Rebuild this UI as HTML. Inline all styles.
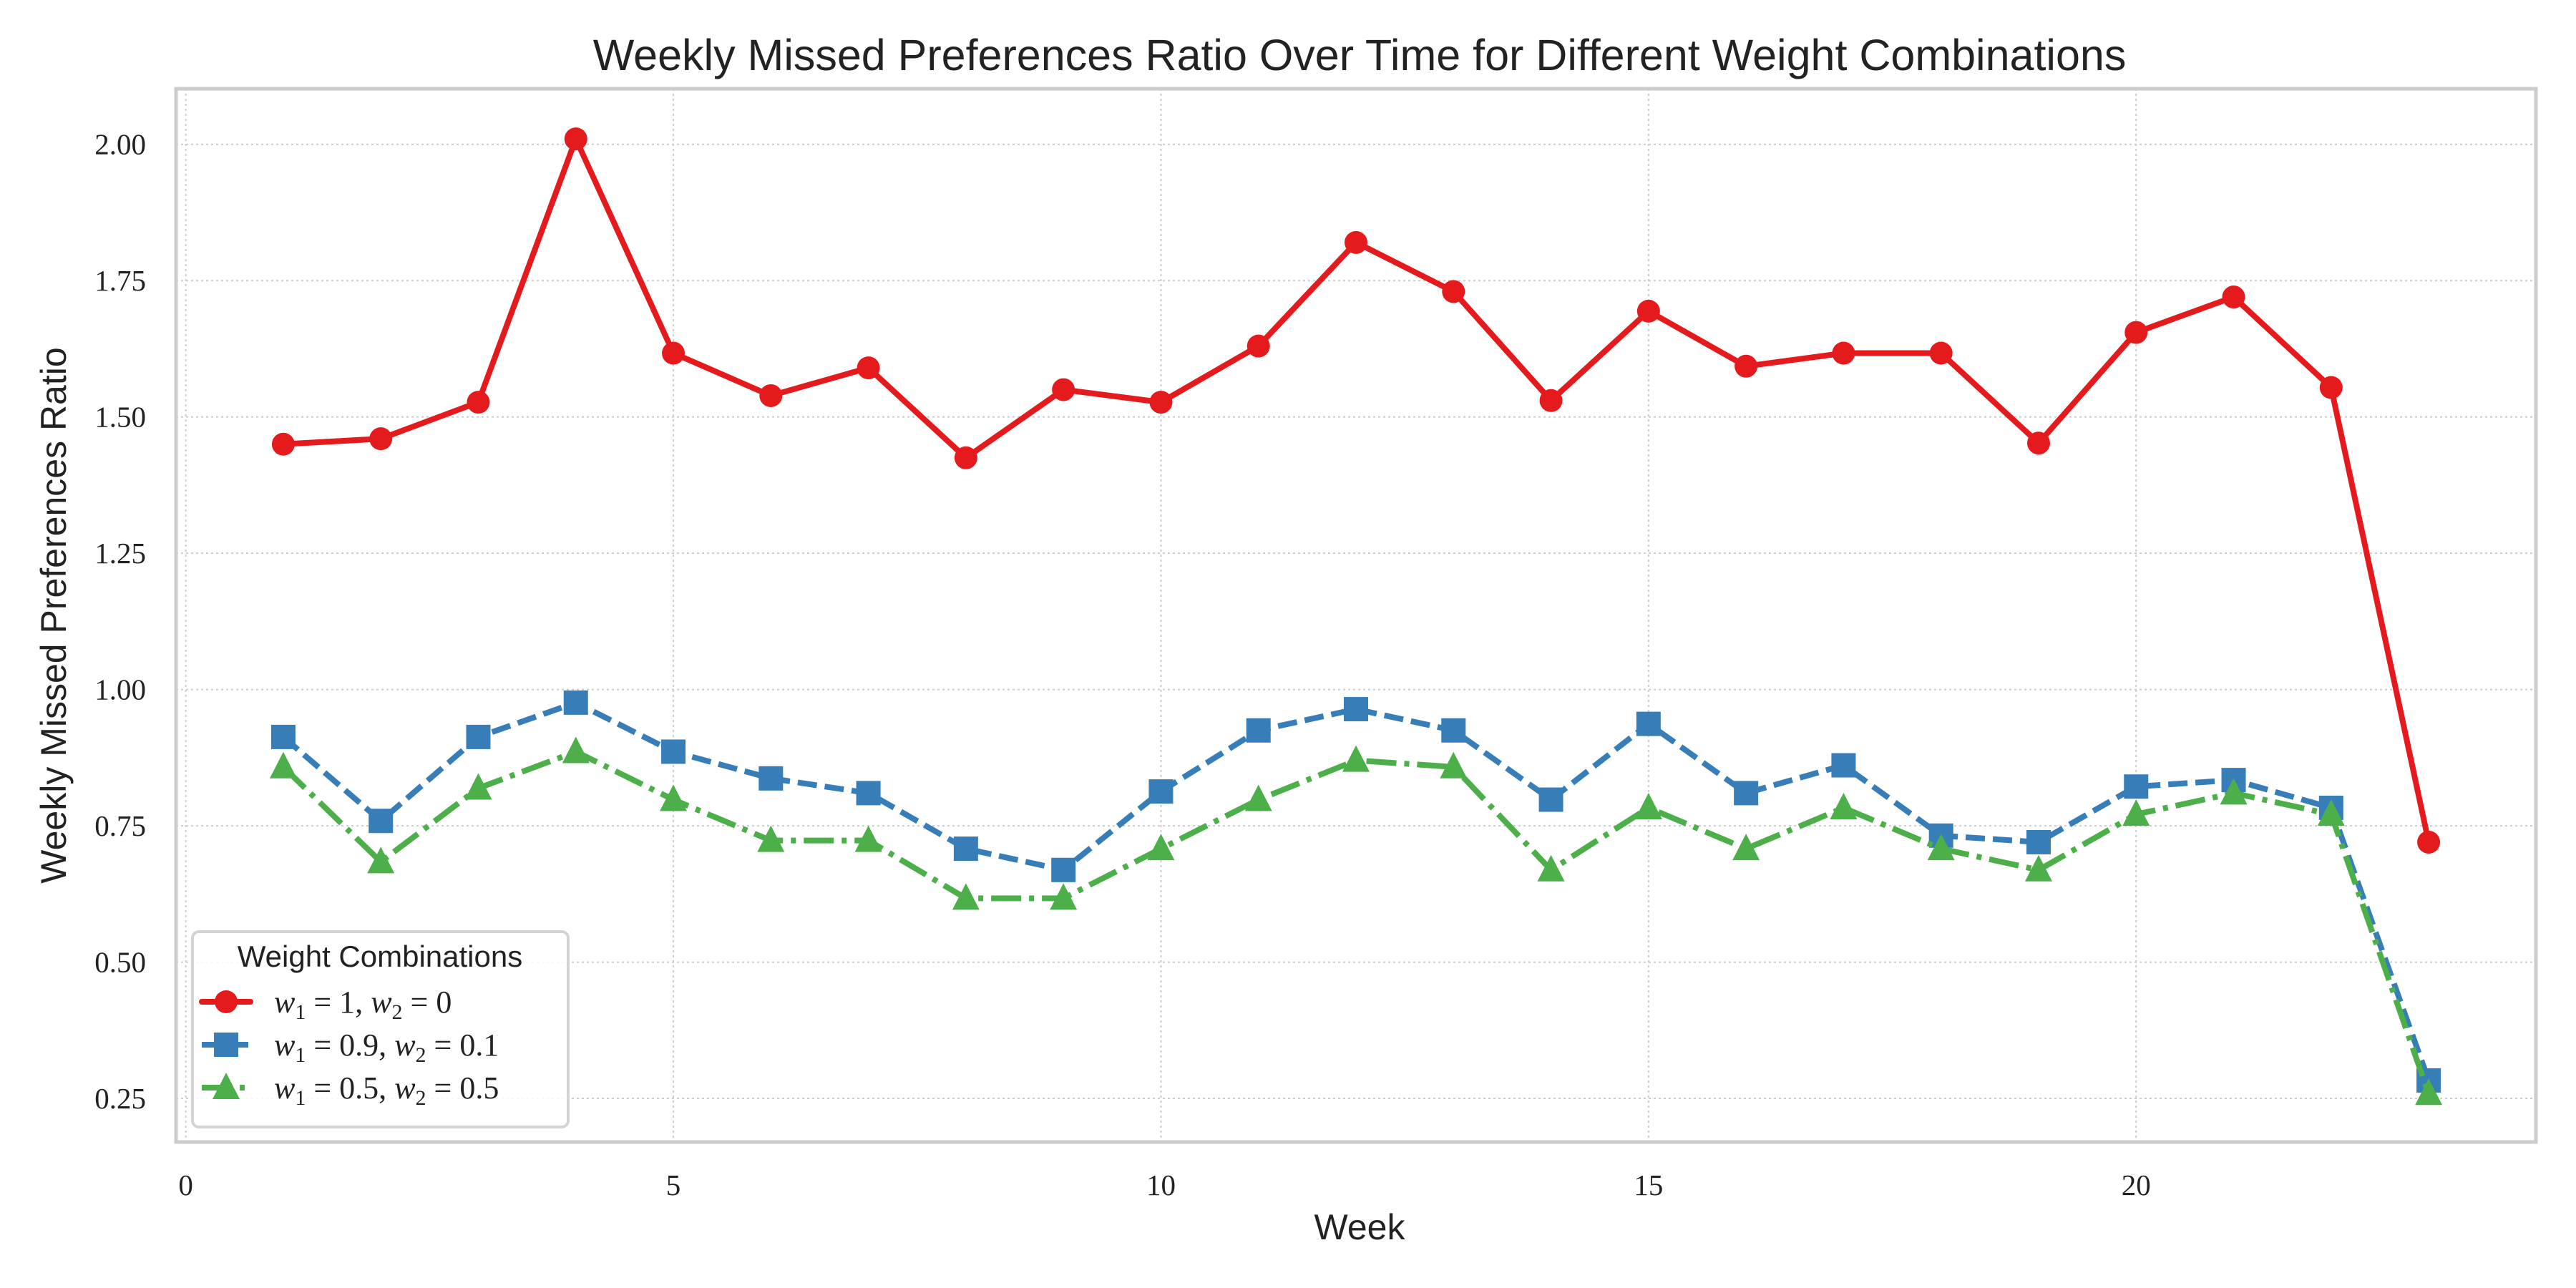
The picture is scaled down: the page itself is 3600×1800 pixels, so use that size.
<!DOCTYPE html>
<html><head><meta charset="utf-8"><style>
html,body{margin:0;padding:0;background:#fff;}
svg{display:block;}
</style></head><body>
<svg id="chart" width="3600" height="1800" xmlns="http://www.w3.org/2000/svg">
<rect width="3600" height="1800" fill="#fff"/>
<g id="grid"></g>
<g id="series"></g>
<rect x="246" y="124" width="3298" height="1472" fill="none" stroke="#cccccc" stroke-width="5"/>
<g id="ticks"></g>
<text x="1900" y="98" text-anchor="middle" font-family="Liberation Sans, sans-serif" font-size="61" fill="#222">Weekly Missed Preferences Ratio Over Time for Different Weight Combinations</text>
<text x="1900" y="1732" text-anchor="middle" font-family="Liberation Sans, sans-serif" font-size="50" fill="#222">Week</text>
<text x="0" y="0" transform="translate(92,860) rotate(-90)" text-anchor="middle" font-family="Liberation Sans, sans-serif" font-size="50" fill="#222">Weekly Missed Preferences Ratio</text>
<g id="legend">
<rect x="269" y="1302" width="525" height="273" rx="9" fill="#fff" fill-opacity="0.85" stroke="#d3d3d3" stroke-width="4"/>
<text x="531" y="1351" text-anchor="middle" font-family="Liberation Sans, sans-serif" font-size="42" fill="#222">Weight Combinations</text>
</g>
</svg>
<script>
const weeks = [1,2,3,4,5,6,7,8,9,10,11,12,13,14,15,16,17,18,19,20,21,22,23];
const seriesW1 = [1.45,1.46,1.527,2.01,1.617,1.539,1.59,1.425,1.55,1.527,1.63,1.82,1.73,1.53,1.694,1.593,1.617,1.617,1.452,1.655,1.72,1.554,0.72];
const seriesW09 = [0.913,0.759,0.913,0.976,0.886,0.837,0.81,0.708,0.669,0.813,0.925,0.964,0.925,0.798,0.937,0.81,0.861,0.732,0.72,0.822,0.834,0.783,0.283];
const seriesW05 = [0.858,0.684,0.819,0.886,0.798,0.723,0.723,0.617,0.617,0.708,0.798,0.87,0.858,0.669,0.783,0.708,0.783,0.708,0.669,0.771,0.81,0.771,0.259];
const xTicks = [0,5,10,15,20];
const yTicks = [0.25,0.50,0.75,1.00,1.25,1.50,1.75,2.00];
const yTickLabels = ["0.25","0.50","0.75","1.00","1.25","1.50","1.75","2.00"];

const NS = "http://www.w3.org/2000/svg";
const L=246,R=3544,T=124,B=1596;
const xMin=-0.1,xMax=24.1,yMin=0.17,yMax=2.102;
function xs(v){return L+(v-xMin)/(xMax-xMin)*(R-L);}
function ys(v){return B-(v-yMin)/(yMax-yMin)*(B-T);}
function mk(tag,attrs,parent){const e=document.createElementNS(NS,tag);for(const k in attrs)e.setAttribute(k,attrs[k]);parent.appendChild(e);return e;}

const grid=document.getElementById('grid'),ticks=document.getElementById('ticks'),ser=document.getElementById('series');
xTicks.forEach(t=>{
  const g=mk('line',{x1:xs(t),x2:xs(t),y1:T,y2:B,stroke:'#cccccc','stroke-width':2,'stroke-dasharray':'3,4'},grid);
  
  
  const tx=mk('text',{x:xs(t),y:1670,'text-anchor':'middle','font-family':'Liberation Serif, serif','font-size':41,fill:'#222'},ticks);
  tx.textContent=String(t);
  
  
});
yTicks.forEach((t,i)=>{
  const g=mk('line',{x1:L,x2:R,y1:ys(t),y2:ys(t),stroke:'#cccccc','stroke-width':2,'stroke-dasharray':'3,4'},grid);
  
  
  const tx=mk('text',{x:204,y:ys(t)+14,'text-anchor':'end','font-family':'Liberation Serif, serif','font-size':41,fill:'#222'},ticks);
  tx.textContent=yTickLabels[i];
  
  
});

function marker(type,cx,cy,color,parent,name){
  let e;
  if(type==='circle') e=mk('circle',{cx:cx,cy:cy,r:16,fill:color},parent);
  else if(type==='square') e=mk('rect',{x:cx-17,y:cy-17,width:34,height:34,fill:color},parent);
  else e=mk('polygon',{points:`${cx},${cy-21} ${cx+19},${cy+16} ${cx-19},${cy+16}`,fill:color},parent);
  
  
}
const defs=[
  {vals:seriesW1,color:'#e41a1c',dash:'none',m:'circle',name:'series-w1-1'},
  {vals:seriesW09,color:'#377eb8',dash:'27,11',m:'square',name:'series-w1-0-9'},
  {vals:seriesW05,color:'#4daf4a',dash:'42,11,7,11',m:'triangle',name:'series-w1-0-5'}
];
defs.forEach(d=>{
  const g=mk('g',{},ser);
  
  
  const pts=weeks.map((w,i)=>xs(w)+','+ys(d.vals[i])).join(' ');
  const pl=mk('polyline',{points:pts,fill:'none',stroke:d.color,'stroke-width':8,'stroke-dasharray':d.dash,'stroke-linejoin':'round'},g);
  
  
  weeks.forEach((w,i)=>marker(d.m,xs(w),ys(d.vals[i]),d.color,g,d.name+'-point'));
});

const leg=document.getElementById('legend');
const labels=[['1','0'],['0.9','0.1'],['0.5','0.5']];
defs.forEach((d,i)=>{
  const y=1400+i*60;
  const g=mk('g',{},leg);
  
  
  mk('line',{x1:282,x2:350,y1:y,y2:y,stroke:d.color,'stroke-width':8,'stroke-dasharray':d.dash==='none'?'none':(i===1?'27,11':'42,11,7,11'),'stroke-linecap':i===0?'round':'butt'},g);
  marker(d.m,316,y,d.color,g,'legend-marker');
  const t=mk('text',{x:383,y:y+15,'font-family':'Liberation Serif, serif','font-size':44,fill:'#222'},g);
  t.innerHTML=`<tspan font-style="italic">w</tspan><tspan font-size="30" dy="9">1</tspan><tspan dy="-9"> = ${labels[i][0]}, </tspan><tspan font-style="italic">w</tspan><tspan font-size="30" dy="9">2</tspan><tspan dy="-9"> = ${labels[i][1]}</tspan>`;
  
  
});
</script>
</body></html>
